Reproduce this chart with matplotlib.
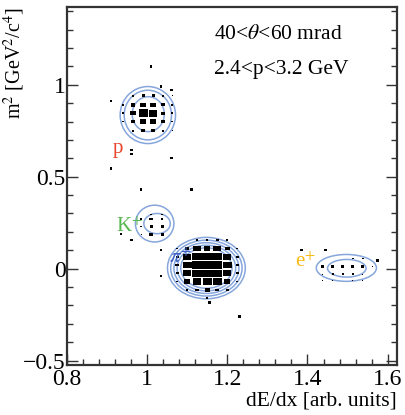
import matplotlib
matplotlib.use("Agg")
import matplotlib.pyplot as plt
from matplotlib.patches import Rectangle, Ellipse
from matplotlib.ticker import MultipleLocator

plt.rcParams['font.family'] = ['Liberation Serif', 'DejaVu Serif']
plt.rcParams['mathtext.fontset'] = 'stix'

# bin size of the 2D histogram
dx, dy = 0.025, 0.046

# proton cluster
p_x = [0.94, 0.965, 0.99, 1.015, 1.04, 1.063]
p_y = [0.94, 0.89, 0.845, 0.80, 0.75]
p_s = [[0.0, 0.25, 0.30, 0.30, 0.25, 0.15],
       [0.15, 0.40, 0.55, 0.55, 0.35, 0.20],
       [0.20, 0.50, 0.90, 0.85, 0.40, 0.20],
       [0.15, 0.40, 0.55, 0.55, 0.35, 0.20],
       [0.0, 0.25, 0.40, 0.40, 0.20, 0.10]]

# kaon cluster
k_x = [0.985, 1.01, 1.0375]
k_y = [0.295, 0.27, 0.23, 0.185]
k_s = [[0.0, 0.15, 0.15],
       [0.15, 0.35, 0.25],
       [0.15, 0.30, 0.30],
       [0.10, 0.35, 0.30]]

# pion cluster
pi_x = [1.075, 1.10, 1.125, 1.15, 1.175, 1.20, 1.225]
pi_y = [0.155, 0.11, 0.065, 0.02, -0.025, -0.07, -0.115, -0.16]
pi_s = [[0.0, 0.0, 0.20, 0.20, 0.25, 0.20, 0.0],
        [0.15, 0.35, 0.65, 0.55, 0.65, 0.45, 0.20],
        [0.25, 0.75, 0.85, 0.85, 0.85, 0.70, 0.25],
        [0.30, 0.80, 0.85, 0.85, 0.85, 0.80, 0.30],
        [0.25, 0.75, 0.85, 0.85, 0.85, 0.70, 0.25],
        [0.15, 0.55, 0.75, 0.80, 0.75, 0.50, 0.20],
        [0.0, 0.20, 0.30, 0.45, 0.30, 0.25, 0.0],
        [0.0, 0.0, 0.0, 0.20, 0.0, 0.0, 0.0]]

# positron cluster
e_x = [1.4375, 1.4625, 1.4875, 1.5125, 1.5375, 1.5625]
e_y = [0.055, 0.012, -0.03, -0.065]
e_s = [[0.0, 0.0, 0.0, 0.20, 0.20, 0.0],
       [0.30, 0.35, 0.35, 0.35, 0.30, 0.15],
       [0.15, 0.20, 0.20, 0.20, 0.15, 0.0],
       [0.15, 0.15, 0.0, 0.15, 0.15, 0.0]]

# single entries
iso_x = [1.01, 0.91, 0.962, 0.962, 0.91, 1.06, 0.985, 1.11, 0.935, 0.962,
         1.035, 1.035, 1.155, 1.23, 1.385, 1.445, 1.575, 1.035, 1.062]
iso_y = [1.10, 0.91, 0.645, 0.625, 0.545, 0.60, 0.43, 0.43, 0.19, 0.155,
         0.10, -0.04, -0.185, -0.26, 0.10, 0.10, 0.045, 0.99, 0.97]

# contour ellipses: centre x, centre y, half-width, half-height
ell_x = [1.002, 1.002, 1.003, 1.019, 1.025,
         1.148, 1.148, 1.148, 1.148, 1.148, 1.497, 1.498]
ell_y = [0.835, 0.835, 0.84, 0.245, 0.245,
         0.003, 0.003, 0.003, 0.003, 0.003, 0.004, 0.002]
ell_rx = [0.069, 0.059, 0.040, 0.048, 0.033,
          0.097, 0.089, 0.081, 0.073, 0.064, 0.075, 0.048]
ell_ry = [0.155, 0.135, 0.095, 0.100, 0.055,
          0.167, 0.152, 0.138, 0.124, 0.110, 0.073, 0.048]

# particle labels
lab_txt = ['p', 'K$^{+}$', r'$\pi^{+}$', 'e$^{+}$']
lab_x = [0.928, 0.955, 1.083, 1.395]
lab_y = [0.655, 0.226, 0.055, 0.035]
lab_col = ['#e8432a', '#56b94f', '#3d5fc4', '#f7bb11']

fig = plt.figure(figsize=(4.05, 4.15), dpi=100)
ax = fig.add_axes([0.165, 0.12, 0.815, 0.862])

contour_col = '#86a6dc'
for cx, cy, rx, ry in zip(ell_x, ell_y, ell_rx, ell_ry):
    ax.add_patch(Ellipse((cx, cy), 2 * rx, 2 * ry, fill=False,
                         ec=contour_col, lw=1.1, zorder=1))


def draw_boxes(xs, ys, sizes, wide=1.0):
    for j, yc in enumerate(ys):
        for i, xc in enumerate(xs):
            s = sizes[j][i]
            if s <= 0:
                continue
            w, h = min(s * wide, 1.0) * dx, s * dy
            ax.add_patch(Rectangle((xc - w / 2, yc - h / 2), w, h,
                                   fc='black', ec='none', zorder=2))


draw_boxes(p_x, p_y, p_s)
draw_boxes(k_x, k_y, k_s)
draw_boxes(pi_x, pi_y, pi_s, wide=1.15)
draw_boxes(e_x, e_y, e_s)
for xc, yc in zip(iso_x, iso_y):
    w, h = 0.28 * dx, 0.28 * dy
    ax.add_patch(Rectangle((xc - w / 2, yc - h / 2), w, h,
                           fc='black', ec='none', zorder=2))

for t, x, y, c in zip(lab_txt, lab_x, lab_y, lab_col):
    ax.text(x, y, t, color=c, fontsize=15, ha='center', va='center', zorder=3)

ax.text(1.168, 1.273, r'40<$\theta$<60 mrad', fontsize=15.5, ha='left', va='center')
ax.text(1.168, 1.083, '2.4<p<3.2 GeV', fontsize=15.5, ha='left', va='center')

ax.set_xlim(0.8, 1.623)
ax.set_ylim(-0.525, 1.42)
ax.xaxis.set_major_locator(MultipleLocator(0.2))
ax.xaxis.set_minor_locator(MultipleLocator(0.04))
ax.yaxis.set_major_locator(MultipleLocator(0.5))
ax.yaxis.set_minor_locator(MultipleLocator(0.1))
ax.xaxis.set_major_formatter(plt.FuncFormatter(lambda v, _: f'{v:g}'))
ax.yaxis.set_major_formatter(plt.FuncFormatter(lambda v, _: f'{v:g}'.replace('-', '\u2212')))
ax.tick_params(which='both', direction='in', left=True, right=True, top=False,
               bottom=True, labelsize=17, color='#333333', width=1.0)
ax.tick_params(which='major', length=8, pad=1)
ax.tick_params(axis='x', which='major', pad=3)
ax.tick_params(which='minor', length=4)
for sp in ax.spines.values():
    sp.set_linewidth(1.6)
    sp.set_color('#333333')

ax.set_xlabel('dE/dx [arb. units]', fontsize=15.5, loc='right', labelpad=1)
ax.set_ylabel('m$^{2}$ [GeV$^{2}$/c$^{4}$]', fontsize=14.5, loc='top')
ax.yaxis.set_label_coords(-0.12, 1.0)

fig.savefig('out.png', dpi=100)
